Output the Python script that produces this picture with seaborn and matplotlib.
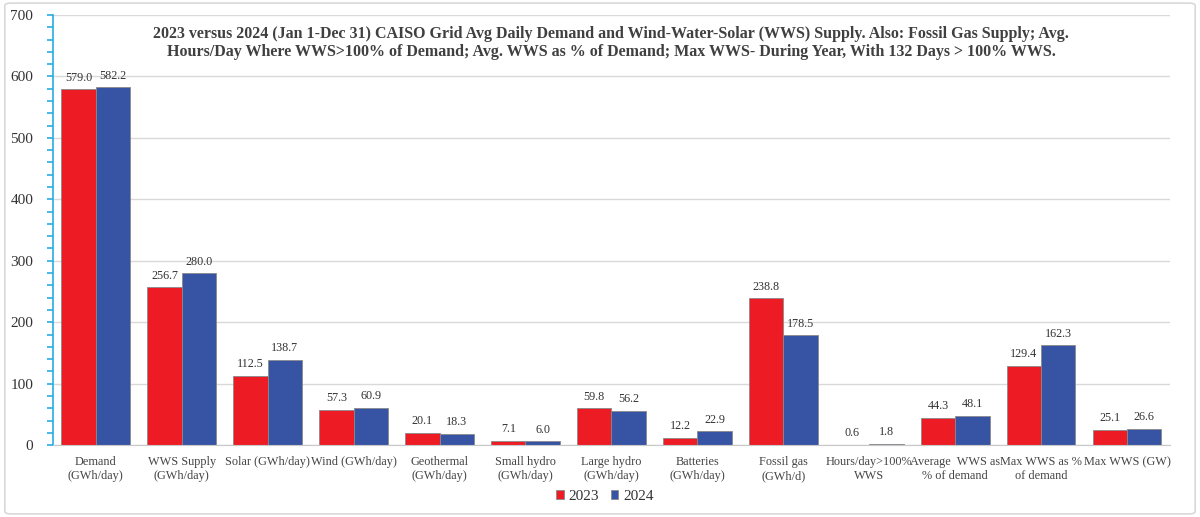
import pandas as pd
import matplotlib.pyplot as plt
import seaborn as sns
from matplotlib.patches import FancyBboxPatch
from matplotlib.ticker import MultipleLocator

# ===== DATA =====
categories = ['Demand\n(GWh/day)', 'WWS Supply\n(GWh/day)', 'Solar (GWh/day)', 'Wind (GWh/day)',
              'Geothermal\n(GWh/day)', 'Small hydro\n(GWh/day)', 'Large hydro\n(GWh/day)',
              'Batteries\n(GWh/day)', 'Fossil gas\n(GWh/d)', 'Hours/day>100%\nWWS',
              'Average  WWS as\n% of demand', 'Max WWS as %\nof demand', 'Max WWS (GW)']
values_2023 = [579.0, 256.7, 112.5, 57.3, 20.1, 7.1, 59.8, 12.2, 238.8, 0.6, 44.3, 129.4, 25.1]
values_2024 = [582.2, 280.0, 138.7, 60.9, 18.3, 6.0, 56.2, 22.9, 178.5, 1.8, 48.1, 162.3, 26.6]
years = ['2023', '2024']

df = pd.DataFrame({
    'Category': categories * 2,
    'Value': values_2023 + values_2024,
    'Year': [years[0]] * len(categories) + [years[1]] * len(categories),
})

# ===== PLOT =====
sns.set_style("white")
plt.rcParams['font.family'] = ['Liberation Serif', 'DejaVu Serif']

fig = plt.figure(figsize=(12, 5.17), dpi=100)
ax = fig.add_axes([0.044, 0.139, 0.931, 0.832])

palette = {'2023': '#ED1C24', '2024': '#3653A4'}
sns.barplot(data=df, x='Category', y='Value', hue='Year', palette=palette,
            width=0.8, gap=0, saturation=1, ax=ax, edgecolor='#8a8a8a', linewidth=0.6)

for cont in ax.containers:
    ax.bar_label(cont, fmt='%.1f', padding=4, fontsize=8.7, color='#333333')

ax.set_ylim(0, 700)
ax.set_xlim(-0.5, len(categories) - 0.5)
ax.yaxis.set_major_locator(MultipleLocator(100))
ax.yaxis.set_minor_locator(MultipleLocator(20))
ax.tick_params(axis='y', which='both', direction='out', color='#29ABE2', length=4, width=1.2,
               labelsize=11, labelcolor='#333333', left=True, pad=10)
ax.tick_params(axis='x', length=0, labelsize=8.8, labelcolor='#444444', pad=8)
ax.grid(axis='y', color='#d9d9d9', linewidth=1)
ax.set_axisbelow(True)
for s in ['top', 'right']:
    ax.spines[s].set_visible(False)
ax.spines['left'].set_color('#29ABE2')
ax.spines['left'].set_linewidth(1.2)
ax.spines['bottom'].set_color('#c8c8c8')
ax.set_xlabel('')
ax.set_ylabel('')

ax.text(0.5, 0.935,
        '2023 versus 2024 (Jan 1-Dec 31) CAISO Grid Avg Daily Demand and Wind-Water-Solar (WWS) Supply. Also: Fossil Gas Supply; Avg.\n'
        'Hours/Day Where WWS>100% of Demand; Avg. WWS as % of Demand; Max WWS- During Year, With 132 Days > 100% WWS.',
        transform=ax.transAxes, ha='center', va='center', fontsize=11.5, fontweight='bold',
        color='#404040', linespacing=1.15)

ax.legend(loc='center', bbox_to_anchor=(0.494, -0.119), ncol=2, frameon=False,
          fontsize=11, handlelength=0.5, handleheight=0.5, handletextpad=0.3, columnspacing=0.8,
          labelcolor='#333333')

border = FancyBboxPatch((0.004, 0.006), 0.992, 0.988, boxstyle='round,pad=0,rounding_size=0.005',
                        transform=fig.transFigure, fill=False, edgecolor='#d9d9d9', linewidth=1.2)
fig.patches.append(border)

fig.savefig('out.png', dpi=100)
